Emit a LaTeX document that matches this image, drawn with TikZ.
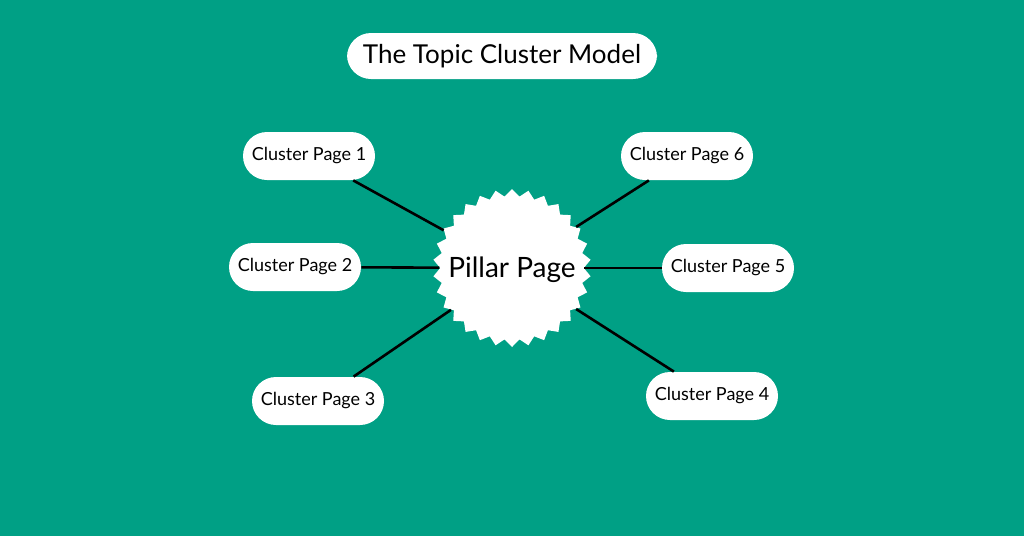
\documentclass[tikz,border=0pt]{standalone}
\usepackage{fontspec}
\setmainfont{Lato}
\usetikzlibrary{shapes.geometric}
\definecolor{TealBg}{HTML}{00A085}
\tikzset{
  cluster/.style={draw=none, fill=white, rounded corners=12pt, minimum width=66pt, minimum height=24pt, font=\fontsize{9}{10}\selectfont, inner sep=2pt},
  link/.style={line width=1.3pt, black}
}
\begin{document}
\begin{tikzpicture}[x=0.5pt, y=-0.5pt]
  % fond
  \fill[TealBg] (0,0) rectangle (1024,536);
  \node[cluster, minimum width=155pt, minimum height=23pt, font=\fontsize{13}{14}\selectfont] (title) at (502,56) {The Topic Cluster Model};
  % noeud central
  \node[star, star points=30, star point ratio=1.1, fill=white, minimum size=79pt, inner sep=0pt] (pillar) at (512,268) {};
  \node at (512,270) {\fontsize{14}{16}\selectfont Pillar Page};
  \node[cluster] (c1) at (309,156) {Cluster Page 1};
  \node[cluster] (c2) at (295,267) {Cluster Page 2};
  \node[cluster] (c3) at (318,401) {Cluster Page 3};
  \node[cluster] (c4) at (712,396) {Cluster Page 4};
  \node[cluster] (c5) at (728,268) {Cluster Page 5};
  \node[cluster] (c6) at (687,156) {Cluster Page 6};
  % liens
  \foreach \c in {c1,c2,c3,c4,c5,c6}
    \draw[link] (\c) -- (pillar);
\end{tikzpicture}
\end{document}
